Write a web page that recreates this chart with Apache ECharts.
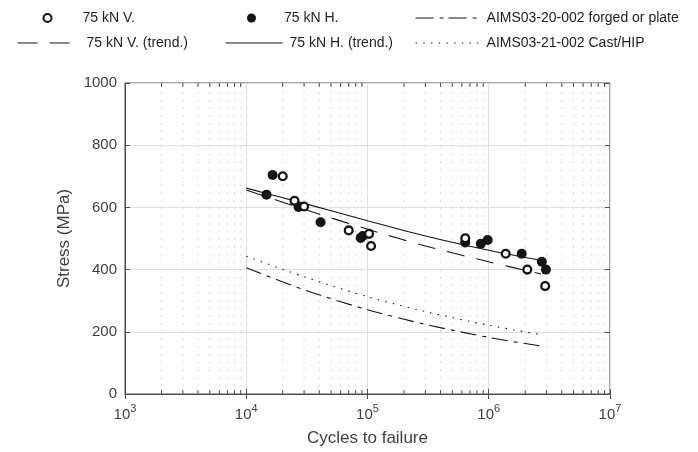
<!DOCTYPE html>
<html>
<head>
<meta charset="utf-8">
<script src="https://cdn.jsdelivr.net/npm/echarts@6/dist/echarts.min.js"></script>
<style>
html,body{margin:0;padding:0;background:#fff;}
#c{width:698px;height:452px;}
</style>
</head>
<body>
<div id="c"></div>
<script>
// ---- data ----
const vCycles = [20000, 25000, 30000, 70000, 103000, 107000, 640000, 1380000, 2080000, 2920000];
const vStress = [700, 621, 603, 526, 515, 476, 501, 451, 400, 347];
const hCycles = [14700, 16500, 27000, 41000, 88000, 91500, 640000, 860000, 980000, 1870000, 2740000, 2960000];
const hStress = [641, 704, 601, 552, 502, 508, 487, 483, 495, 451, 425, 400];

const vTrendCycles = [1e4, 3e4, 1e5, 3e5, 1e6, 2.7e6];
const vTrendStress = [656, 594, 530, 476, 425, 386];
const hTrendCycles = [1e4, 3e4, 1e5, 3e5, 1e6, 2.8e6];
const hTrendStress = [662, 613, 557, 508, 462, 428];
const aimsCycles = [1e4, 3e4, 1e5, 3e5, 1e6, 2.7e6];
const forgedStress = [406, 335, 271, 224, 182, 154];
const castStress = [443, 377, 313, 265, 221, 191];

const minorTicks = [2e3,3e3,4e3,5e3,6e3,7e3,8e3,9e3,2e4,3e4,4e4,5e4,6e4,7e4,8e4,9e4,
  2e5,3e5,4e5,5e5,6e5,7e5,8e5,9e5,2e6,3e6,4e6,5e6,6e6,7e6,8e6,9e6];

const names = {
  v: '75 kN V.', h: '75 kN H.', forged: 'AIMS03-20-002 forged or plate',
  vt: '75 kN V. (trend.)', ht: '75 kN H. (trend.)', cast: 'AIMS03-21-002 Cast/HIP'
};

const zip = (a, b) => a.map((x, i) => [x, b[i]]);
const ink = '#141414';
const axisCol = '#4d4d4d';
const labelCol = '#404040';
const font = 'Liberation Sans, Arial, Helvetica, sans-serif';

const chart = echarts.init(document.getElementById('c'), null, {renderer: 'canvas'});

function legendBox(name, left, top, opts) {
  return Object.assign({
    data: [name], left: left, top: top, padding: 0, orient: 'horizontal',
    selectedMode: false
  }, opts);
}
function lt(pad) {
  return {fontFamily: font, fontSize: 14, color: '#1e1e1e', padding: [0, 0, 0, pad]};
}

const option = {
  animation: false,
  backgroundColor: '#fff',
  textStyle: {fontFamily: font},
  grid: {left: 125, right: 88, top: 83, bottom: 54, show: true, borderColor: axisCol, borderWidth: 1, backgroundColor: '#fff'},
  legend: [
    legendBox(names.v, 42.5, 11, {itemWidth: 8, itemHeight: 14, icon: 'circle',
      itemStyle: {color: '#fff', borderColor: ink, borderWidth: 2, opacity: 1},
      textStyle: lt(26)}),
    legendBox(names.h, 247, 11, {itemWidth: 9, itemHeight: 14, icon: 'circle',
      itemStyle: {color: ink, borderWidth: 0, opacity: 1},
      textStyle: lt(23)}),
    legendBox(names.forged, 415, 11, {itemWidth: 63, itemHeight: 14,
      itemStyle: {opacity: 0},
      lineStyle: {type: [18, 6, 4, 5], width: 1.1, color: ink, opacity: 1},
      textStyle: lt(3)}),
    legendBox(names.vt, 17, 36, {itemWidth: 52, itemHeight: 14,
      itemStyle: {opacity: 0},
      lineStyle: {type: [20, 12], width: 1.1, color: ink, opacity: 1},
      textStyle: lt(12)}),
    legendBox(names.ht, 225, 36, {itemWidth: 57, itemHeight: 14,
      itemStyle: {opacity: 0},
      lineStyle: {type: 'solid', width: 1.1, color: ink, opacity: 1},
      textStyle: lt(2)}),
    legendBox(names.cast, 415, 36, {itemWidth: 63, itemHeight: 14,
      itemStyle: {opacity: 0},
      lineStyle: {type: [1.5, 6.2], width: 1.1, color: ink, opacity: 1},
      textStyle: lt(3)})
  ],
  xAxis: [{
    type: 'log', logBase: 10, min: 1e3, max: 1e7, position: 'bottom',
    name: 'Cycles to failure', nameLocation: 'middle', nameGap: 36,
    nameTextStyle: {fontFamily: font, fontSize: 17, color: labelCol},
    axisLine: {show: true, lineStyle: {color: axisCol, width: 1}},
    axisTick: {show: true, inside: true, length: 5, lineStyle: {color: axisCol}},
    axisLabel: {
      margin: 9, color: labelCol,
      formatter: function (v) { return '{b|10}{s|' + Math.round(Math.log10(v)) + '}'; },
      rich: {
        b: {fontFamily: font, fontSize: 15, color: labelCol, lineHeight: 19, verticalAlign: 'bottom'},
        s: {fontFamily: font, fontSize: 11, color: labelCol, lineHeight: 19, verticalAlign: 'top'}
      }
    },
    splitLine: {show: true, lineStyle: {color: '#dedede', width: 1}}
  }, {
    type: 'log', logBase: 10, min: 1e3, max: 1e7, position: 'top',
    axisLine: {show: false},
    axisTick: {show: true, inside: true, length: 5, lineStyle: {color: axisCol}},
    axisLabel: {show: false}, splitLine: {show: false}
  }],
  yAxis: [{
    type: 'value', min: 0, max: 1000, interval: 200, position: 'left',
    name: 'Stress (MPa)', nameLocation: 'middle', nameGap: 42,
    nameTextStyle: {fontFamily: font, fontSize: 17, color: labelCol},
    axisLine: {show: true, lineStyle: {color: axisCol, width: 1}},
    axisTick: {show: true, inside: true, length: 5, lineStyle: {color: axisCol}},
    axisLabel: {margin: 8, fontFamily: font, fontSize: 15, color: labelCol,
      formatter: function (v) { return String(v); }},
    splitLine: {show: true, lineStyle: {color: '#dedede', width: 1}}
  }, {
    type: 'value', min: 0, max: 1000, interval: 200, position: 'right',
    axisLine: {show: false},
    axisTick: {show: true, inside: true, length: 5, lineStyle: {color: axisCol}},
    axisLabel: {show: false}, splitLine: {show: false}
  }],
  series: [
    {
      name: 'minor', type: 'custom', coordinateSystem: 'cartesian2d', silent: true, z: 1,
      data: minorTicks.map(function (t) { return [t, 0]; }),
      renderItem: function (params, api) {
        var x = api.value(0);
        var b = api.coord([x, 0]);
        var t = api.coord([x, 1000]);
        return {
          type: 'group',
          children: [
            {type: 'line', shape: {x1: b[0], y1: b[1], x2: t[0], y2: t[1]},
              style: {stroke: '#cccccc', lineWidth: 1, lineDash: [1.5, 6.2]}},
            {type: 'line', shape: {x1: b[0], y1: b[1], x2: b[0], y2: b[1] - 4},
              style: {stroke: axisCol, lineWidth: 1}},
            {type: 'line', shape: {x1: t[0], y1: t[1], x2: t[0], y2: t[1] + 4},
              style: {stroke: axisCol, lineWidth: 1}}
          ]
        };
      }
    },
    {
      name: names.forged, type: 'line', data: zip(aimsCycles, forgedStress), smooth: 0.3,
      symbol: 'none', z: 3, color: ink,
      lineStyle: {color: ink, width: 1.1, type: [16, 6, 4, 6]}
    },
    {
      name: names.cast, type: 'line', data: zip(aimsCycles, castStress), smooth: 0.3,
      symbol: 'none', z: 3, color: ink,
      lineStyle: {color: ink, width: 1.1, type: [1.5, 6.2]}
    },
    {
      name: names.vt, type: 'line', data: zip(vTrendCycles, vTrendStress), smooth: 0.3,
      symbol: 'none', z: 3, color: ink,
      lineStyle: {color: ink, width: 1.1, type: [18, 12]}
    },
    {
      name: names.ht, type: 'line', data: zip(hTrendCycles, hTrendStress), smooth: 0.3,
      symbol: 'none', z: 3, color: ink,
      lineStyle: {color: ink, width: 1.1, type: 'solid'}
    },
    {
      name: names.v, type: 'scatter', data: zip(vCycles, vStress), symbol: 'circle', symbolSize: 7.8, z: 5,
      itemStyle: {color: '#fff', borderColor: ink, borderWidth: 2.3, opacity: 1}
    },
    {
      name: names.h, type: 'scatter', data: zip(hCycles, hStress), symbol: 'circle', symbolSize: 10, z: 4,
      itemStyle: {color: ink, borderWidth: 0, opacity: 1}
    }
  ]
};
chart.setOption(option);
</script>
</body>
</html>
